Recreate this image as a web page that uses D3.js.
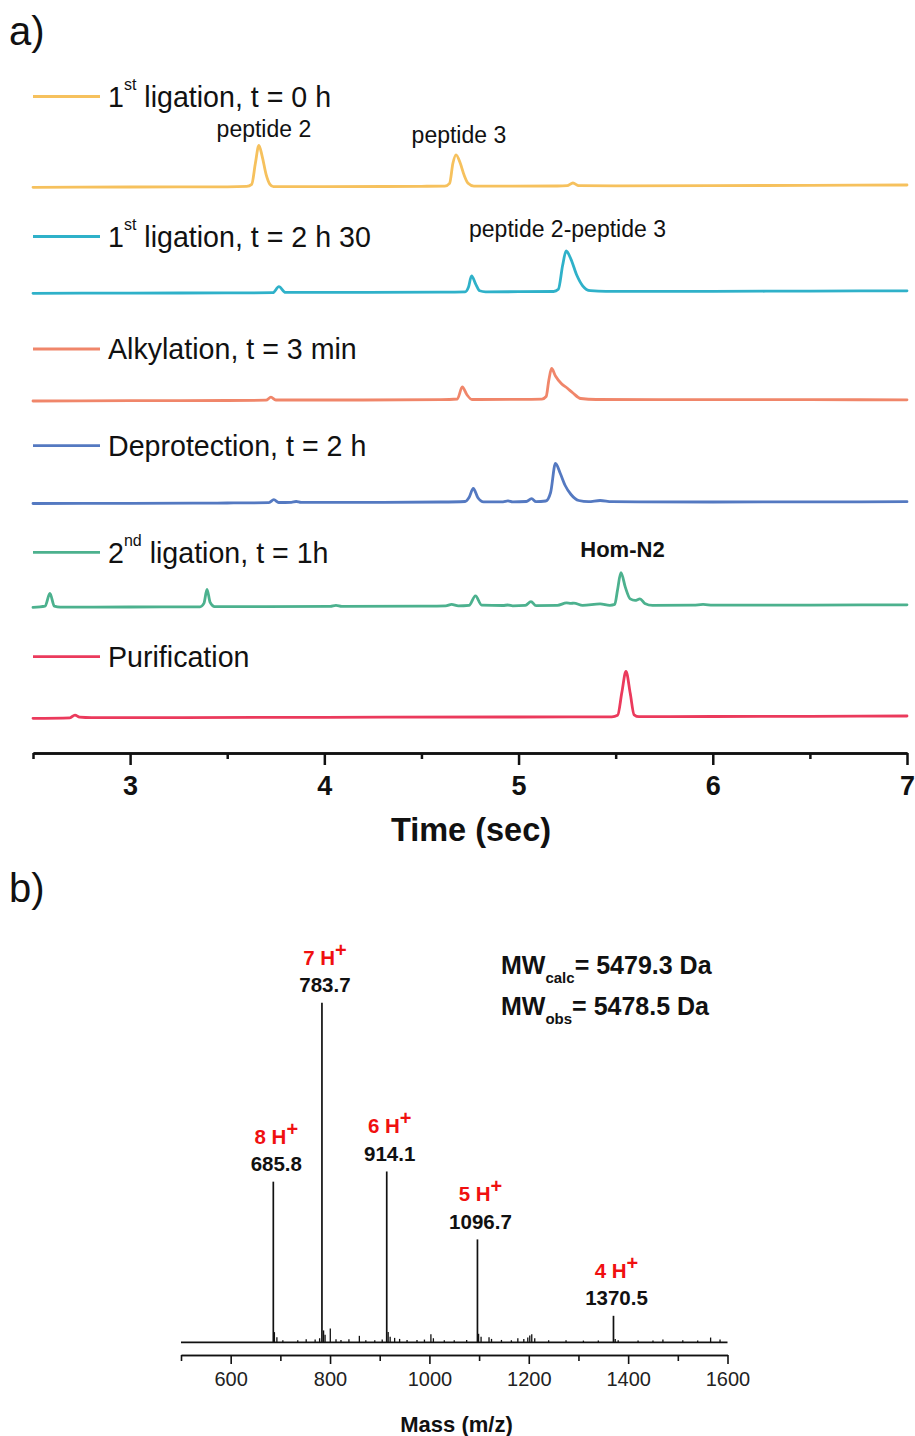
<!DOCTYPE html>
<html><head><meta charset="utf-8">
<script src="https://cdn.jsdelivr.net/npm/d3@7"></script>
<style>
body{margin:0;background:#fff}
svg{display:block}
text{font-family:"Liberation Sans",Arial,Helvetica,sans-serif}
</style>
</head><body>
<svg id="c" width="915" height="1436"></svg>
<script>
// ---------------- DATA: panel a (chromatograms) ----------------
const timeMajorTicks = [3, 4, 5, 6, 7];
const timeMinorTicks = [2.5, 3.5, 4.5, 5.5, 6.5];

const legendLabels = [
  ["1", "st", " ligation, t = 0 h"],
  ["1", "st", " ligation, t = 2 h 30"],
  ["Alkylation, t = 3 min", "", ""],
  ["Deprotection, t = 2 h", "", ""],
  ["2", "nd", " ligation, t = 1h"],
  ["Purification", "", ""]
];

// stacking offsets of each trace (signal units)
const traceOffsets = [565.7, 459.7, 352, 249.5, 145.6, 34.7];

// [time (sec), signal above trace baseline]
const ligation1T0 = [
  [2.5,0],[3.0,0.3],[3.5,0.5],[3.60,0.9],[3.626,3],[3.645,24],[3.663,42],[3.68,31],[3.70,13],[3.72,3],[3.738,0.7],
  [4.0,0.7],[4.5,1.0],[4.62,1.2],[4.645,4],[4.662,24],[4.678,32.5],[4.70,24],[4.72,12],[4.74,4],[4.77,1.2],
  [5.2,1.3],[5.25,1.6],[5.28,4.3],[5.31,1.6],[5.5,1.5],[6.0,1.6],[6.5,2],[7.0,2.3]
];
const ligation1T230 = [
  [2.5,0],[3.0,0.2],[3.5,0.4],[3.735,0.6],[3.766,6.6],[3.80,0.9],[4.2,1.0],[4.6,1.2],[4.725,1.5],[4.742,6],[4.758,17.5],
  [4.78,9],[4.80,2.5],[4.83,1.5],[5.0,1.6],[5.18,1.8],[5.205,4],[5.227,28],[5.245,42.3],[5.27,34],[5.30,18],[5.33,7.5],
  [5.37,2.6],[5.45,2],[6.0,2.0],[6.5,2.2],[7.0,2.5]
];
const alkylation3min = [
  [2.5,0],[3.0,0.3],[3.5,0.5],[3.70,0.8],[3.725,3.8],[3.75,1.0],[4.2,1.0],[4.6,1.3],[4.685,2],[4.71,14],[4.735,6],
  [4.76,1.5],[5.0,1.6],[5.12,1.9],[5.142,4.5],[5.156,21],[5.17,32.5],[5.19,25],[5.22,17.5],[5.25,13],[5.28,8],
  [5.32,2.5],[5.40,1.5],[6.0,1.3],[6.5,1.3],[7.0,1.2]
];
const deprotection2h = [
  [2.5,0],[3.0,0.2],[3.5,0.5],[3.715,0.9],[3.74,3.8],[3.765,1.0],[3.83,1.2],[3.855,2],[3.88,1.1],[4.3,1.2],[4.6,1.5],
  [4.725,2],[4.745,6],[4.767,15],[4.79,6],[4.82,1.6],[4.92,1.7],[4.945,2.6],[4.97,1.6],[5.04,2],[5.067,4.8],[5.09,1.8],
  [5.14,2.5],[5.165,11],[5.19,40],[5.215,30],[5.24,18],[5.27,9],[5.31,3],[5.36,1.8],[5.42,3],[5.48,1.8],
  [6.0,1.5],[6.5,1.6],[7.0,1.8]
];
const ligation2T1h = [
  [2.5,0],[2.562,1.2],[2.587,14],[2.61,1.2],[2.64,0.3],[3.0,0.4],[3.36,0.6],[3.38,4],[3.396,18],[3.412,5],[3.435,0.8],
  [4.03,1.0],[4.06,2],[4.09,1.0],[4.5,1.3],[4.625,1.6],[4.655,3],[4.69,1.5],[4.745,2],[4.778,11.5],[4.81,2.2],
  [4.92,1.9],[4.945,2.4],[4.97,1.6],[5.035,2],[5.064,5.8],[5.09,1.8],[5.20,2],[5.247,4.5],[5.27,4.1],[5.285,4.2],
  [5.33,2],[5.42,3.5],[5.47,2.1],[5.495,3],[5.51,18],[5.527,34.8],[5.55,20],[5.575,8.5],[5.60,7],[5.625,8.5],
  [5.65,4],[5.69,2],[5.90,2.2],[5.95,3],[6.0,2.2],[6.5,2.3],[7.0,2.6]
];
const purification = [
  [2.5,0],[2.69,0.5],[2.716,3.2],[2.74,1.1],[2.8,0.6],[4.0,1.0],[5.0,1.3],[5.48,1.5],[5.51,3],[5.532,26],[5.553,47],
  [5.575,25],[5.595,3.5],[5.62,1.6],[6.0,1.8],[6.5,2.0],[7.0,2.3]
];
const chromatograms = [ligation1T0, ligation1T230, alkylation3min, deprotection2h, ligation2T1h, purification];

// peak annotations: [text, time, trace index, bold]
const peakNotes = [
  ["peptide 2", 3.689, 0, false],
  ["peptide 3", 4.693, 0, false],
  ["peptide 2-peptide 3", 5.252, 1, false],
  ["Hom-N2", 5.535, 4, true]
];

// ---------------- DATA: panel b (mass spectrum) ----------------
const massMajorTicks = [600, 800, 1000, 1200, 1400, 1600];
const massMinorTicks = [500, 700, 900, 1100, 1300, 1500];
const ionMz = [685.8, 783.7, 914.1, 1096.7, 1370.5];
const ionIntensity = [47.3, 100, 50.3, 30.3, 7.8];
const ionCharge = ["8 H", "7 H", "6 H", "5 H", "4 H"];
const minorMz = [688, 693, 705, 735, 752, 770, 779, 787, 790, 800.5, 812, 822, 838, 859, 872, 890, 905, 917, 921, 930, 940,
  955, 975, 990, 1003, 1008, 1030, 1050, 1075, 1099, 1104, 1120, 1125, 1145, 1165, 1178, 1190, 1198, 1202, 1206, 1212,
  1240, 1275, 1310, 1340, 1374, 1380, 1420, 1450, 1470, 1510, 1540, 1566, 1585];
const minorIntensity = [3, 1.5, 0.6, 0.6, 0.9, 0.8, 1.2, 3.5, 2.2, 4.1, 0.9, 0.7, 0.9, 1.9, 0.6, 0.6, 0.8, 3, 1.6, 1.3, 1.0,
  0.7, 0.7, 0.8, 2.4, 1.2, 0.6, 0.6, 0.7, 2.5, 1.6, 1.5, 1.0, 0.7, 0.6, 1.2, 1.0, 1.4, 2.0, 2.4, 1.2,
  0.6, 0.6, 0.5, 0.5, 1.0, 0.6, 0.5, 0.5, 0.8, 0.6, 0.5, 1.4, 0.8];
const mwLines = [["MW", "calc", "= 5479.3 Da"], ["MW", "obs", "= 5478.5 Da"]];

// ---------------- STYLE / LAYOUT ----------------
const traceColors = ["#f6c15d", "#2fb1c9", "#f0866a", "#5479c1", "#4cb18e", "#eb3a5c"];
const legendY = [96.5, 236.5, 349, 445.7, 552.3, 656.7];

const svg = d3.select("#c");
svg.append("rect").attr("width", 915).attr("height", 1436).attr("fill", "#fff");

// ===== Panel a =====
const xA = d3.scaleLinear().domain([2.5, 7]).range([33, 907]);
const yA = d3.scaleLinear().domain([0, 700]).range([753, 53]);

svg.append("text").attr("x", 9).attr("y", 45).attr("font-size", 40).attr("fill", "#111").text("a)");

const line = d3.line().x(d => xA(d[0])).curve(d3.curveMonotoneX);
chromatograms.forEach((data, i) => {
  svg.append("path")
    .attr("d", line.y(d => yA(traceOffsets[i] + d[1]))(data))
    .attr("fill", "none").attr("stroke", traceColors[i]).attr("stroke-width", 2.8)
    .attr("stroke-linejoin", "round").attr("stroke-linecap", "round");
});

// legend
legendLabels.forEach((lab, i) => {
  const y = legendY[i];
  svg.append("line").attr("x1", 33).attr("x2", 100).attr("y1", y).attr("y2", y)
    .attr("stroke", traceColors[i]).attr("stroke-width", 2.8);
  const t = svg.append("text").attr("x", 108).attr("y", y + 10.3).attr("font-size", 28.6).attr("fill", "#111");
  t.append("tspan").text(lab[0]);
  if (lab[1]) {
    t.append("tspan").attr("font-size", 16).attr("dy", -17).text(lab[1]);
    t.append("tspan").attr("dy", 17).text(lab[2]);
  }
});

// peak notes
const noteY = [136.7, 142.7, 236.7, 557.3];
peakNotes.forEach((n, i) => {
  svg.append("text").attr("x", xA(n[1])).attr("y", noteY[i])
    .attr("text-anchor", "middle").attr("font-size", n[3] ? 22 : 23)
    .attr("font-weight", n[3] ? "bold" : "normal").attr("fill", "#111").text(n[0]);
});

// axis a
const axA = svg.append("g").attr("transform", "translate(0,753)");
axA.call(d3.axisBottom(xA).tickValues(timeMajorTicks).tickSize(12).tickSizeOuter(0).tickFormat(d3.format("d")));
axA.append("g").call(d3.axisBottom(xA).tickValues(timeMinorTicks).tickSize(6).tickSizeOuter(0).tickFormat(""));
axA.selectAll("path.domain").attr("stroke", "#111").attr("stroke-width", 2.5);
axA.selectAll(".tick line").attr("stroke", "#111").attr("stroke-width", 2.5);
axA.selectAll(".tick text").attr("font-size", 27).attr("font-weight", "bold").attr("fill", "#111")
  .attr("dy", 0).attr("y", 42).attr("font-family", "'Liberation Sans',Arial,sans-serif");
svg.append("text").attr("x", 471).attr("y", 841).attr("text-anchor", "middle")
  .attr("font-size", 32.5).attr("font-weight", "bold").attr("fill", "#111").text("Time (sec)");

// ===== Panel b =====
svg.append("text").attr("x", 9).attr("y", 902).attr("font-size", 40).attr("fill", "#111").text("b)");

const xB = d3.scaleLinear().domain([500, 1600]).range([181, 727.5]);
const yB = d3.scaleLinear().domain([0, 100]).range([1342.3, 1002.7]);

const lineB = d3.line().x(d => xB(d[0])).y(d => yB(d[1]));
svg.append("path").attr("d", lineB([[500, 0], [1600, 0]]))
  .attr("stroke", "#111").attr("stroke-width", 1.8).attr("fill", "none");
minorMz.forEach((m, i) => {
  svg.append("path").attr("d", lineB([[m, 0], [m, minorIntensity[i]]]))
    .attr("stroke", "#111").attr("stroke-width", 1.3).attr("fill", "none");
});
ionMz.forEach((m, i) => {
  svg.append("path").attr("d", lineB([[m, 0], [m, ionIntensity[i]]]))
    .attr("stroke", "#111").attr("stroke-width", 1.7).attr("fill", "none");
  const cx = xB(m) + 3, top = yB(ionIntensity[i]);
  svg.append("text").attr("x", cx).attr("y", top - 10.5).attr("text-anchor", "middle")
    .attr("font-size", 20.5).attr("font-weight", "bold").attr("fill", "#111").text(m.toFixed(1));
  const t = svg.append("text").attr("x", cx).attr("y", top - 38).attr("text-anchor", "middle")
    .attr("font-size", 20.5).attr("font-weight", "bold").attr("fill", "#f01010");
  t.append("tspan").text(ionCharge[i]);
  t.append("tspan").attr("dy", -8).attr("font-size", 20).text("+");
});

// MW text
const mwY = [974, 1015];
mwLines.forEach((l, i) => {
  const t = svg.append("text").attr("x", 501).attr("y", mwY[i]).attr("font-size", 25)
    .attr("font-weight", "bold").attr("fill", "#111");
  t.append("tspan").text(l[0]);
  t.append("tspan").attr("font-size", 15).attr("dy", 9.3).text(l[1]);
  t.append("tspan").attr("dy", -9.3).text(l[2]);
});

// axis b
const axB = svg.append("g").attr("transform", "translate(0,1355)");
axB.call(d3.axisBottom(xB).tickValues(massMajorTicks).tickSize(9).tickSizeOuter(0).tickFormat(d3.format("d")));
axB.append("g").call(d3.axisBottom(xB).tickValues(massMinorTicks).tickSize(6).tickSizeOuter(0).tickFormat(""));
axB.selectAll("path.domain").attr("stroke", "#111").attr("stroke-width", 1.6);
axB.selectAll(".tick line").attr("stroke", "#111").attr("stroke-width", 1.6);
axB.selectAll(".tick text").attr("font-size", 20).attr("fill", "#222").attr("dy", 0).attr("y", 31)
  .attr("font-family", "'Liberation Sans',Arial,sans-serif");
svg.append("text").attr("x", 456.5).attr("y", 1432).attr("text-anchor", "middle")
  .attr("font-size", 22).attr("font-weight", "bold").attr("fill", "#111").text("Mass (m/z)");
</script>
</body></html>
